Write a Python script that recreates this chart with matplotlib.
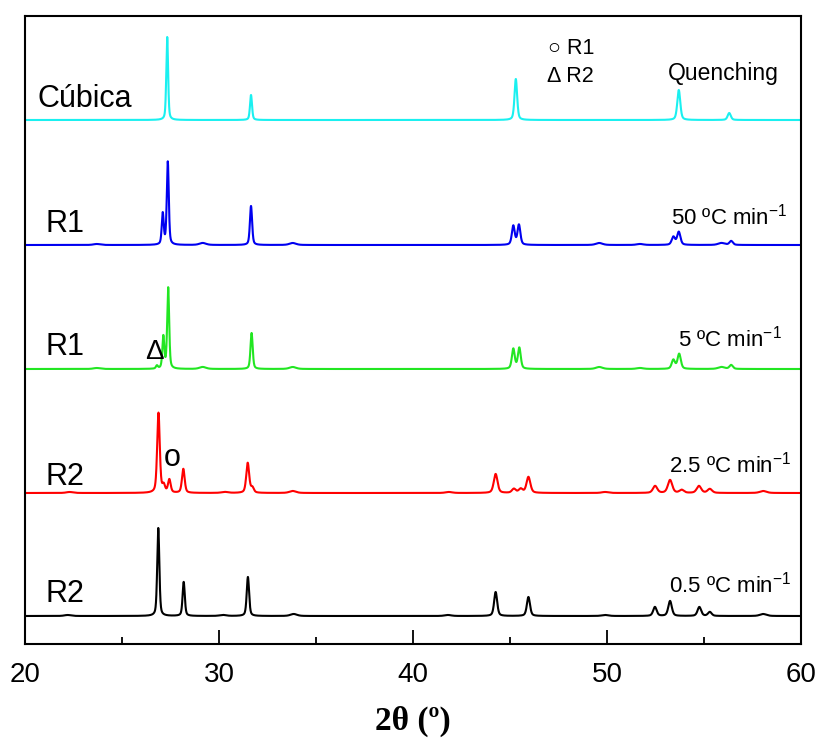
import numpy as np
import matplotlib
matplotlib.use("Agg")
import matplotlib.pyplot as plt

plt.rcParams['font.family'] = ['Liberation Sans', 'DejaVu Sans']
plt.rcParams['mathtext.fontset'] = 'custom'
plt.rcParams['mathtext.rm'] = 'Liberation Sans'
plt.rcParams['mathtext.it'] = 'Liberation Sans'

# ---- data: peak lists (2theta, relative height) ----
cub_pos = [27.33, 31.65, 45.30, 53.70, 56.30]
cub_h   = [83, 25, 41, 30, 7]

r50_pos = [23.7, 27.10, 27.36, 29.16, 31.65, 33.80, 45.17, 45.46, 49.60, 51.70, 53.42, 53.70, 55.90, 56.40]
r50_h   = [1, 31, 83, 2, 39, 2, 19, 20, 2, 1, 8, 13, 2, 4]

r5_pos = [23.7, 26.80, 27.13, 27.38, 29.16, 31.68, 33.80, 45.17, 45.48, 49.60, 51.70, 53.42, 53.72, 55.90, 56.40]
r5_h   = [1, 3, 32, 81, 2, 36, 2, 20, 21, 2, 1, 9, 15, 2, 4]

r25_pos = [22.3, 26.88, 27.15, 27.44, 28.16, 30.30, 31.48, 31.72, 33.80, 41.85, 44.26, 45.20, 45.55, 45.95,
           49.90, 52.48, 53.25, 53.85, 54.74, 55.30, 58.05]
r25_h   = [1, 80, 7, 13, 24, 1, 30, 5, 2, 1, 19, 4, 4, 16, 1, 7, 13, 3, 7, 4, 2]

r05_pos = [22.2, 26.87, 28.18, 30.20, 31.49, 33.85, 41.80, 44.26, 45.95, 49.90, 52.47, 53.25, 54.76, 55.30, 58.05]
r05_h   = [1, 88, 34, 1, 39, 2, 1, 24, 19, 1, 9, 15, 9, 4, 2]

offsets = [524, 399, 275, 151, 28]
colors = ['#1AF0F0', '#0000F0', '#22E622', '#FF0000', '#000000']
widths = [0.11, 0.12, 0.12, 0.16, 0.13]
labels = ['Cúbica', 'R1', 'R1', 'R2', 'R2']
rates = ['Quenching', '50 ºC min$^{-1}$', '5 ºC min$^{-1}$', '2.5 ºC min$^{-1}$', '0.5 ºC min$^{-1}$']

patterns = [(cub_pos, cub_h), (r50_pos, r50_h), (r5_pos, r5_h), (r25_pos, r25_h), (r05_pos, r05_h)]

x = np.linspace(20, 60, 8001)


def profile(pos, h, w):
    y = np.zeros_like(x)
    for p, a in zip(pos, h):
        # weak bumps are broad, high-angle peaks slightly broader
        wp = 0.4 if a <= 2 else w * (1 + 0.025 * (p - 27))
        d = (x - p) / (wp / 2)
        y += a * (0.55 * np.exp(-np.log(2) * d ** 2) + 0.45 / (1 + d ** 2))
    return y


fig = plt.figure(figsize=(8.2, 7.39), dpi=100)
ax = fig.add_axes([25 / 820, 95 / 739, 776 / 820, 628 / 739])

for (pos, h), off, c, w in zip(patterns, offsets, colors, widths):
    ax.plot(x, off + profile(pos, h, w), color=c, lw=1.5)

ax.set_xlim(20, 60)
ax.set_ylim(0, 628)
ax.set_yticks([])
ax.set_xticks([20, 30, 40, 50, 60])
ax.set_xticks([25, 35, 45, 55], minor=True)
ax.tick_params(axis='x', which='major', direction='in', length=10, width=1.3, labelsize=20, pad=13)
ax.tick_params(axis='x', which='minor', direction='in', length=5, width=1.3)
for s in ax.spines.values():
    s.set_linewidth(1.5)

# sample labels (left)
lab_pos = [(20.67, 537), (21.08, 412), (21.08, 289), (21.08, 159), (21.08, 42)]
for t, (lx, ly) in zip(labels, lab_pos):
    ax.text(lx, ly, t, fontsize=22, ha='left', va='baseline')

# rate labels (right)
rate_pos = [(53.14, 564), (53.30, 419), (53.66, 297), (53.20, 172), (53.20, 51)]
for t, (lx, ly) in zip(rates, rate_pos):
    ax.text(lx, ly, t, fontsize=16.5 if t == 'Quenching' else 16, ha='left', va='baseline')

# phase key
ax.text(46.96, 590, '○ R1', fontsize=15.5, ha='left', va='baseline')
ax.text(46.90, 562, 'Δ R2', fontsize=15.5, ha='left', va='baseline')

# markers on patterns
ax.text(26.19, 285, 'Δ', fontsize=20, ha='left', va='baseline')
ax.text(27.58, 178, 'o', fontsize=22, ha='center', va='baseline')

ax.set_xlabel('2θ (º)', fontsize=24, fontweight='bold', family='Liberation Serif', labelpad=13)

fig.savefig('out.png', dpi=100)
